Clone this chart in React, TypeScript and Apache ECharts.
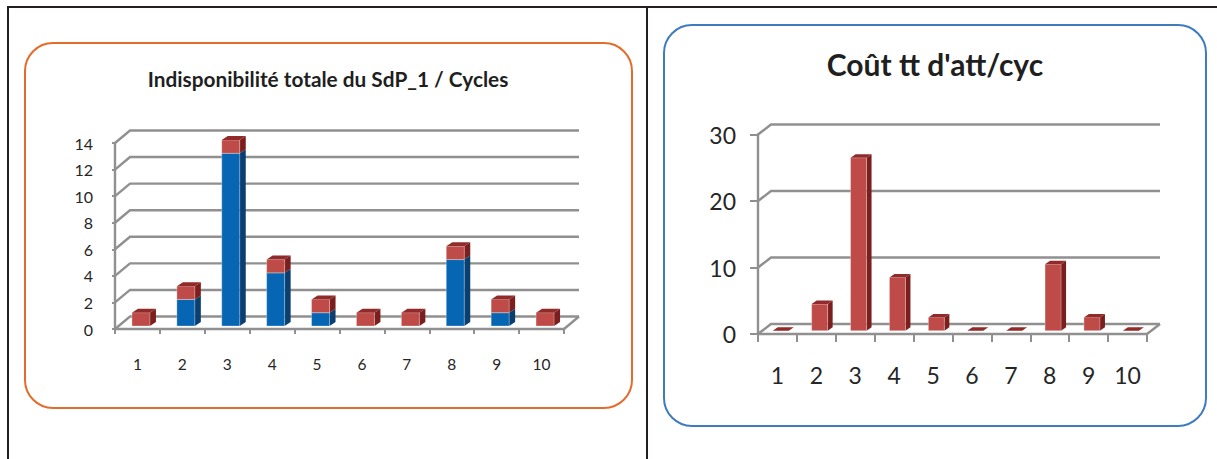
import React, { useEffect, useRef } from "react";
import * as echarts from "echarts";

const categories = ["1", "2", "3", "4", "5", "6", "7", "8", "9", "10"];
const leftBlue = [0, 2, 13, 4, 1, 0, 0, 5, 1, 0];
const leftRed = [1, 1, 1, 1, 1, 1, 1, 1, 1, 1];
const rightRed = [0, 4, 26, 8, 2, 0, 0, 10, 2, 0];
const leftTicks = [0, 2, 4, 6, 8, 10, 12, 14];
const rightTicks = [0, 10, 20, 30];
const leftTitle = "Indisponibilité totale du SdP_1 / Cycles";
const rightTitle = "Coût tt d'att/cyc";

const FONT = "Lato, 'Open Sans', sans-serif";
const RED = { front: "#BE4B48", side: "#7A1F1D", top: "#902B29" };
const BLUE = { front: "#0666B4", side: "#0B3F70", top: "#0B3F70" };
const GRID = "#909090";

function wallSeries(i: number, ticks: number[], dx: number, dy: number) {
  return {
    type: "custom",
    xAxisIndex: i,
    yAxisIndex: i,
    silent: true,
    clip: false,
    z: 1,
    encode: { x: 0, y: 1 },
    data: ticks.map((t) => [0, t]),
    renderItem: (params: any, api: any) => {
      const cs = params.coordSys;
      const y = api.coord([0, api.value(1)])[1];
      const x0 = cs.x;
      const x1 = cs.x + cs.width;
      const style = { stroke: GRID, lineWidth: 2.4, fill: "none" };
      const children: any[] = [
        {
          type: "polyline",
          shape: { points: [[x0, y], [x0 + dx, y - dy], [x1 + dx, y - dy]] },
          style,
        },
      ];
      if (api.value(1) === 0) {
        children.push({
          type: "polyline",
          shape: { points: [[x1, y], [x1 + dx, y - dy]] },
          style,
        });
      }
      return { type: "group", children };
    },
  };
}

function barSeries(
  i: number,
  starts: number[],
  values: number[],
  colors: { front: string; side: string; top: string },
  drawTop: boolean,
  g: { w: number; dx: number; dy: number; ox: number; oy: number }
) {
  return {
    type: "custom",
    xAxisIndex: i,
    yAxisIndex: i,
    silent: true,
    clip: false,
    z: 3,
    encode: { x: 0, y: [1, 2] },
    data: values.map((v, k) => [k, starts[k], starts[k] + v]),
    renderItem: (_p: any, api: any) => {
      const lo = api.coord([api.value(0), api.value(1)]);
      const hi = api.coord([api.value(0), api.value(2)]);
      const l = lo[0] + g.ox - g.w / 2;
      const r = l + g.w;
      const b = lo[1] - g.oy;
      const t = hi[1] - g.oy;
      const children: any[] = [];
      if (b - t > 0) {
        children.push({
          type: "polygon",
          shape: { points: [[r, b], [r + g.dx, b - g.dy], [r + g.dx, t - g.dy], [r, t]] },
          style: { fill: colors.side },
        });
        children.push({
          type: "rect",
          shape: { x: l, y: t, width: g.w, height: b - t },
          style: { fill: colors.front, stroke: "rgba(255,255,255,0.3)", lineWidth: 1 },
        });
      }
      if (drawTop) {
        children.push({
          type: "polygon",
          shape: { points: [[l, t], [l + g.dx, t - g.dy], [r + g.dx, t - g.dy], [r, t]] },
          style: { fill: colors.top },
        });
      }
      return { type: "group", children };
    },
  };
}

function xAxis(i: number, fontSize: number, margin: number, tick: number) {
  return {
    type: "category",
    gridIndex: i,
    data: categories,
    axisLine: { show: true, lineStyle: { color: GRID, width: 2.4 } },
    axisTick: { show: true, alignWithLabel: false, length: tick, lineStyle: { color: GRID, width: 2 } },
    axisLabel: { color: "#262626", fontFamily: FONT, fontSize, margin, interval: 0 },
    splitLine: { show: false },
  };
}

function yAxis(i: number, max: number, interval: number, fontSize: number, margin: number, tick: number) {
  return {
    type: "value",
    gridIndex: i,
    min: 0,
    max,
    interval,
    axisLine: { show: true, lineStyle: { color: GRID, width: 2.4 } },
    axisTick: { show: true, length: tick, lineStyle: { color: GRID, width: 2 } },
    axisLabel: { color: "#262626", fontFamily: FONT, fontSize, margin },
    splitLine: { show: false },
  };
}

export default function App() {
  const ref = useRef<HTMLDivElement>(null);
  useEffect(() => {
    document.body.style.margin = "0";
    const chart = echarts.init(ref.current!, undefined, { renderer: "svg" });
    const lg = { w: 18, dx: 6, dy: 4, ox: 3.5, oy: 3 };
    const rg = { w: 16, dx: 5, dy: 3.5, ox: 3.3, oy: 3.3 };
    const border = { stroke: "#231F20", lineWidth: 2 };
    chart.setOption({
      animation: false,
      backgroundColor: "#fff",
      title: [
        {
          text: leftTitle,
          left: 323,
          top: 63,
          textAlign: "center",
          textStyle: { fontFamily: FONT, fontWeight: "bold", fontSize: 20.8, color: "#1f1f1f" },
        },
        {
          text: rightTitle,
          left: 930,
          top: 44,
          textAlign: "center",
          textStyle: { fontFamily: FONT, fontWeight: "bold", fontSize: 30, color: "#1f1f1f" },
        },
      ],
      grid: [
        { left: 115, top: 143, width: 449, height: 186 },
        { left: 758, top: 134.5, width: 389, height: 199.5 },
      ],
      xAxis: [xAxis(0, 15.5, 27, 5), xAxis(1, 23, 29, 8)],
      yAxis: [yAxis(0, 14, 2, 16, 22, 3), yAxis(1, 30, 10, 23, 22, 8)],
      series: [
        wallSeries(0, leftTicks, 15, 12.5),
        barSeries(0, leftBlue.map(() => 0), leftBlue, BLUE, false, lg),
        barSeries(0, leftBlue, leftRed, RED, true, lg),
        wallSeries(1, rightTicks, 13, 10),
        barSeries(1, rightRed.map(() => 0), rightRed, RED, true, rg),
      ],
      graphic: [
        { type: "line", shape: { x1: 8, y1: 7, x2: 1217, y2: 7 }, style: border },
        { type: "line", shape: { x1: 8, y1: 6, x2: 8, y2: 459 }, style: border },
        { type: "line", shape: { x1: 647, y1: 7, x2: 647, y2: 459 }, style: border },
        {
          type: "rect",
          shape: { x: 25, y: 43, width: 607, height: 365, r: 28 },
          style: { fill: "none", stroke: "#E46C2B", lineWidth: 2 },
        },
        {
          type: "rect",
          shape: { x: 664, y: 25, width: 542, height: 401, r: 28 },
          style: { fill: "none", stroke: "#3F7CBF", lineWidth: 2 },
        },
      ],
    });
    return () => chart.dispose();
  }, []);
  return <div ref={ref} style={{ position: "fixed", left: 0, top: 0, width: 1217, height: 459 }} />;
}
